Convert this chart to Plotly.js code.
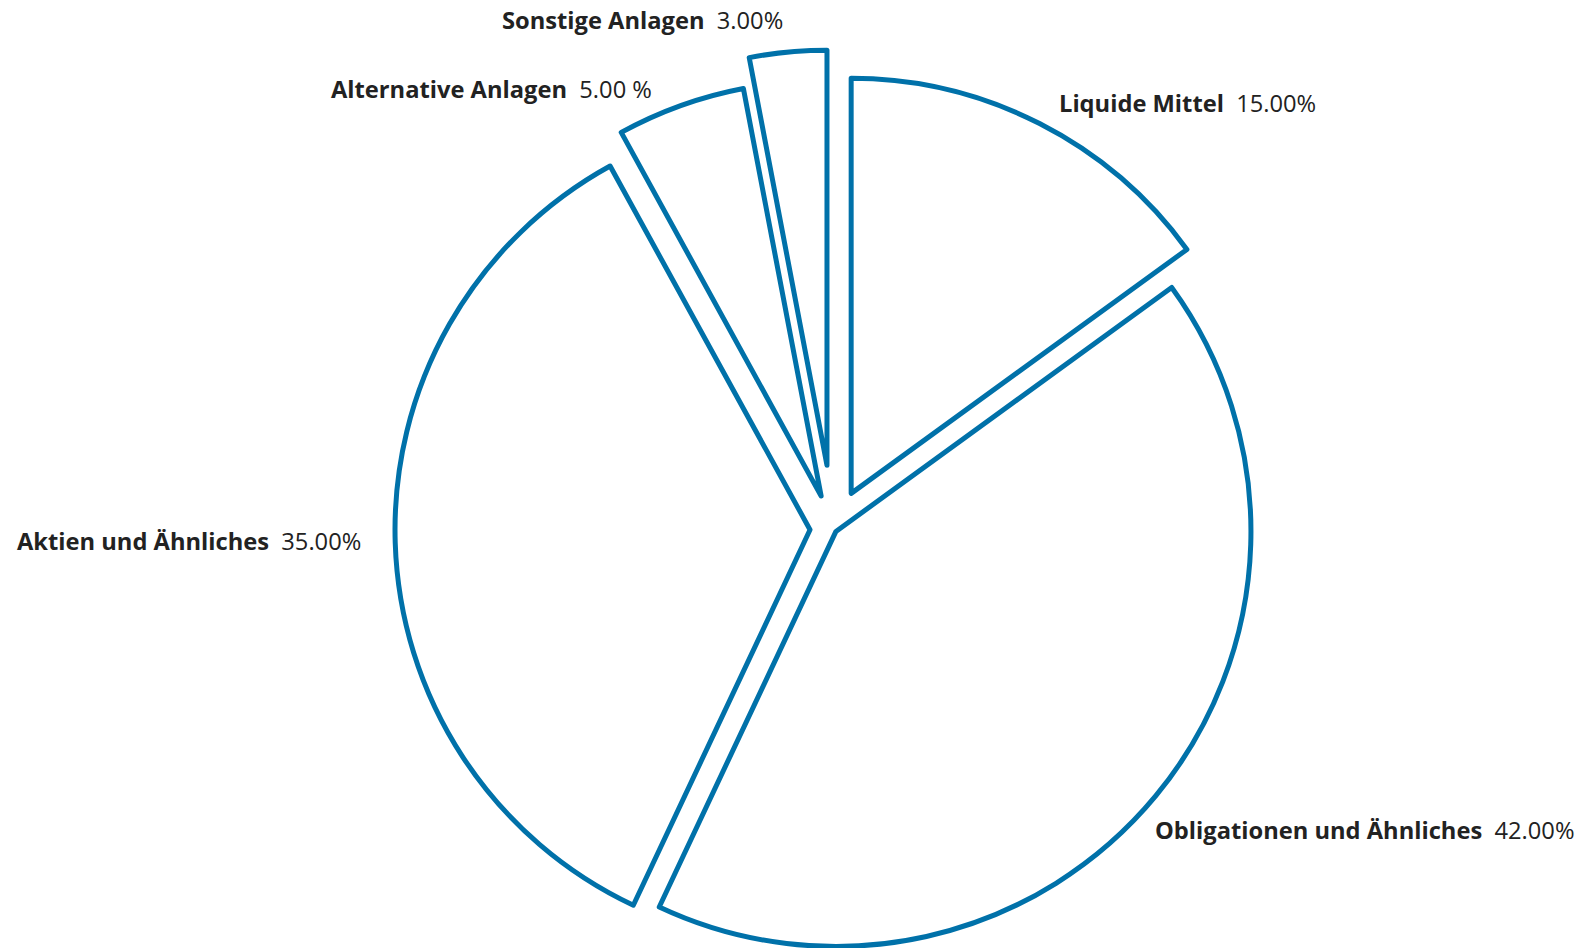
<!DOCTYPE html>
<html>
<head>
<meta charset="utf-8">
<script src="https://cdn.plot.ly/plotly-3.0.1.min.js"></script>
<style>
  html, body { margin: 0; padding: 0; overflow: hidden; background: #ffffff; }
  #wrap { width: 1593px; height: 948px; overflow: hidden; }
</style>
</head>
<body>
<div id="wrap"><div id="chart"></div></div>
<script>
// ---- data ----
const categories = ['Liquide Mittel', 'Obligationen und Ähnliches', 'Aktien und Ähnliches', 'Alternative Anlagen', 'Sonstige Anlagen'];
const shares = [15, 42, 35, 5, 3];
const valueLabels = ['15.00%', '42.00%', '35.00%', '5.00 %', '3.00%'];

// ---- layout constants ----
const W = 1593, H = 1100;
const labelPos = [
  [1057, 103],
  [1153, 830],
  [15, 540.5],
  [328.5, 89],
  [499.5, 20]
];

const trace = {
  type: 'pie',
  labels: categories,
  values: shares,
  sort: false,
  direction: 'clockwise',
  rotation: 0,
  pull: [0.0964, 0.0092, 0.0554, 0.0843, 0.1542],
  textinfo: 'none',
  hoverinfo: 'none',
  marker: {
    colors: categories.map(() => '#ffffff'),
    line: { color: '#0071A9', width: 5 }
  },
  domain: { x: [133 / W, 1533 / W], y: [1 - 1008 / H, 1 - 50 / H] }
};

const annotations = categories.map((c, i) => ({
  xref: 'paper', yref: 'paper',
  x: labelPos[i][0] / W,
  y: 1 - labelPos[i][1] / H,
  xanchor: 'left', yanchor: 'middle',
  showarrow: false,
  text: '<b>' + c + '</b>\u00a0\u00a0' + valueLabels[i],
  font: { family: '"Open Sans", sans-serif', size: 23.7, color: '#222222' }
}));

const layout = {
  width: W, height: H,
  margin: { l: 0, r: 0, t: 0, b: 0 },
  showlegend: false,
  paper_bgcolor: '#ffffff',
  plot_bgcolor: '#ffffff',
  annotations: annotations
};

Plotly.newPlot('chart', [trace], layout, { displayModeBar: false, staticPlot: true });
</script>
</body>
</html>
